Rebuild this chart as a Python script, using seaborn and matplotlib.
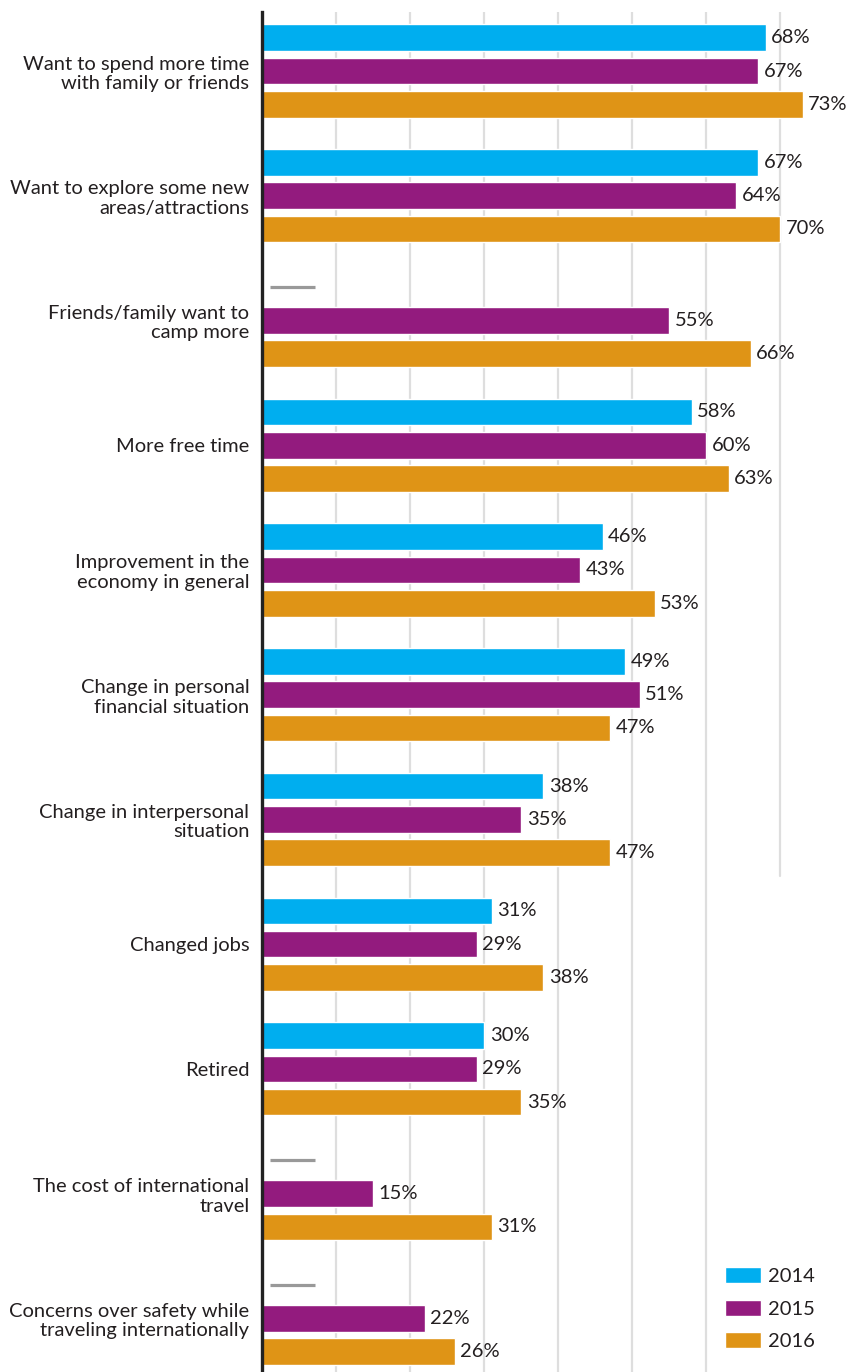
import numpy as np
import pandas as pd
import seaborn as sns
from matplotlib import pyplot as plt

# data (NaN = not asked that year)
factors = [
    "Want to spend more time\nwith family or friends",
    "Want to explore some new\nareas/attractions",
    "Friends/family want to\ncamp more",
    "More free time",
    "Improvement in the\neconomy in general",
    "Change in personal\nfinancial situation",
    "Change in interpersonal\nsituation",
    "Changed jobs",
    "Retired",
    "The cost of international\ntravel",
    "Concerns over safety while\ntraveling internationally",
]
years = ["2014", "2015", "2016"]
pct_2014 = [68, 67, np.nan, 58, 46, 49, 38, 31, 30, np.nan, np.nan]
pct_2015 = [67, 64, 55, 60, 43, 51, 35, 29, 29, 15, 22]
pct_2016 = [73, 70, 66, 63, 53, 47, 47, 38, 35, 31, 26]
colors = ["#00AEEF", "#931B7E", "#DF9416"]

df = pd.DataFrame({
    "factor": factors * 3,
    "year": [y for y in years for _ in factors],
    "pct": pct_2014 + pct_2015 + pct_2016,
})

sns.set_style("white")
plt.rcParams["font.family"] = ["Lato", "DejaVu Sans"]
text_color = "#231f20"

fig = plt.figure(figsize=(8.53, 13.72), dpi=100)
ax = fig.add_axes([262 / 853, 0, 591 / 853, 1360 / 1372])

sns.barplot(data=df, y="factor", x="pct", hue="year", order=factors, hue_order=years,
            orient="h", palette=colors, width=0.8, gap=0.2, saturation=1, ax=ax)

ax.set_xlim(0, 79.8)
ax.set_ylim(10.43, -0.473)

# gridlines, the 70% one stops above the legend area
for g in range(10, 80, 10):
    ymin = 0.365 if g == 70 else 0
    ax.axvline(g, ymin=ymin, ymax=1, color="#dedede", lw=1.6, zorder=0)

# value labels
for cont in ax.containers:
    for bar in cont:
        w = bar.get_width()
        if np.isfinite(w) and w > 0:
            ax.text(w + 0.75, bar.get_y() + bar.get_height() / 2, f"{w:.0f}%",
                    va="center", ha="left", fontsize=14.5, color=text_color)

# dash for missing 2014 values
first = ax.containers[0][0]
off = first.get_y() + first.get_height() / 2
for i, v in enumerate(pct_2014):
    if np.isnan(v):
        ax.plot([1.1, 7.2], [i + off, i + off], color="#999999", lw=2.3,
                solid_capstyle="butt")

for s in ["top", "right", "bottom"]:
    ax.spines[s].set_visible(False)
ax.spines["left"].set_color("#222222")
ax.spines["left"].set_linewidth(2.4)
ax.set_xticks([])
ax.set_xlabel("")
ax.set_ylabel("")
ax.tick_params(axis="y", length=0, pad=9, labelsize=14.5, labelcolor=text_color)
for lab in ax.get_yticklabels():
    lab.set_linespacing(1.18)

handles, labels = ax.get_legend_handles_labels()
ax.legend(handles, labels, loc="lower right", bbox_to_anchor=(0.935, 0.016),
          frameon=False, fontsize=14.5, borderpad=0, borderaxespad=0,
          handlelength=1.75, handleheight=0.85, handletextpad=0.35,
          labelspacing=0.72, labelcolor=text_color)

fig.savefig("out.png", dpi=100)
